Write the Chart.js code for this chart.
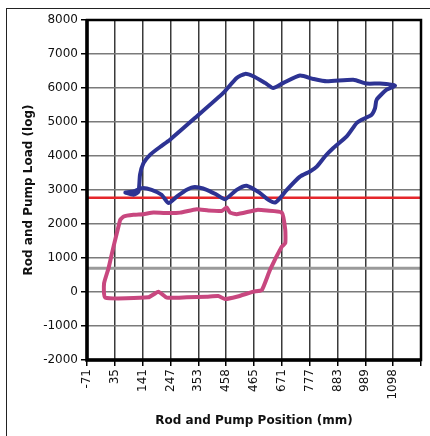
<!DOCTYPE html>
<html>
<head>
<meta charset="utf-8">
<script src="https://cdn.jsdelivr.net/npm/chart.js@4.4.1/dist/chart.umd.min.js"></script>
<style>
  html, body { margin: 0; padding: 0; background: #fff; }
  #wrap { position: relative; width: 430px; height: 436px; }
  #frameTop { position: absolute; left: 6px; top: 8px; width: 424px; height: 1px; background: #222; }
  #frameLeft { position: absolute; left: 6px; top: 8px; width: 1px; height: 428px; background: #222; }
  canvas { position: absolute; left: 0; top: 0; }
</style>
</head>
<body>
<div id="wrap">
  <div id="frameTop"></div>
  <div id="frameLeft"></div>
  <canvas id="chart" width="430" height="436"></canvas>
</div>
<script>
// Axis ticks
const xTicks = [-71, 35, 141, 247, 353, 459, 565, 671, 777, 883, 989, 1095, 1201];
const xLabels = ['-71', '35', '141', '247', '353', '458', '465', '671', '777', '883', '989', '1098', ''];

// Rod load loop (blue)
const rodX = [75, 106, 125, 131, 144, 169, 207, 245, 347, 448, 499, 531, 562, 607, 638, 677, 740, 791, 842, 943, 994, 1045, 1102,
  1070, 1032, 1026, 1013, 975, 956, 918, 867, 835, 804, 778, 740, 690, 664, 645, 620, 588, 537, 499, 455, 423, 385, 340, 309, 271, 239, 213, 175, 138, 106, 75];
const rodY = [2925, 2860, 2955, 3450, 3790, 4035, 4265, 4480, 5165, 5855, 6295, 6415, 6345, 6150, 6000, 6150, 6365, 6265, 6195, 6245, 6130, 6130, 6070,
  5950, 5655, 5410, 5215, 5065, 4970, 4575, 4235, 3985, 3690, 3545, 3395, 3005, 2760, 2630, 2710, 2910, 3125, 3005, 2730, 2860, 3005, 3085, 3005, 2805, 2615, 2860, 3005, 3055, 2955, 2925];

// Pump load loop (pink)
const pumpX = [55, 68, 106, 144, 182, 245, 284, 347, 391, 442, 461, 474, 499, 576, 614, 671, 684, 684, 671, 626, 595, 563, 499, 455, 429, 385, 309, 233, 201, 163, -2, -6, 11, 30, 55];
const pumpY = [2120, 2220, 2270, 2290, 2335, 2320, 2335, 2435, 2395, 2385, 2485, 2335, 2290, 2415, 2395, 2335, 1830, 1435, 1335, 650, 60, 10, -140, -205, -120, -140, -155, -165, 10, -155, -165, 255, 700, 1335, 2120];

// Reference levels
const redLevel = 2770;
const grayLevel = 700;

const toPoints = (xs, ys) => xs.map((x, i) => ({ x: x, y: ys[i] }));
const flatLine = (v) => [{ x: xTicks[0], y: v }, { x: xTicks[xTicks.length - 1], y: v }];

const FONT = 'DejaVu Sans';

// Black frame round the plot area
const frameBox = {
  id: 'frameBox',
  afterDatasetsDraw(chart) {
    const { ctx, chartArea: a } = chart;
    ctx.save();
    ctx.strokeStyle = '#000';
    ctx.lineWidth = 2.5;
    ctx.strokeRect(a.left, a.top, a.right - a.left, a.bottom - a.top);
    ctx.lineWidth = 3.5;
    ctx.beginPath();
    ctx.moveTo(a.left, a.top - 1);
    ctx.lineTo(a.left, a.bottom);
    ctx.lineTo(a.right, a.bottom);
    ctx.stroke();
    ctx.restore();
  }
};

new Chart(document.getElementById('chart').getContext('2d'), {
  type: 'scatter',
  data: {
    datasets: [
      {
        data: toPoints(rodX, rodY),
        showLine: true,
        borderColor: '#2D3393',
        borderWidth: 4,
        pointRadius: 0,
        tension: 0.2,
        borderJoinStyle: 'round',
        borderCapStyle: 'round'
      },
      {
        data: toPoints(pumpX, pumpY),
        showLine: true,
        borderColor: '#C8477F',
        borderWidth: 4,
        pointRadius: 0,
        tension: 0.15,
        borderJoinStyle: 'round',
        borderCapStyle: 'round'
      },
      {
        data: flatLine(redLevel),
        showLine: true,
        borderColor: '#E5262B',
        borderWidth: 2.5,
        pointRadius: 0
      },
      {
        data: flatLine(grayLevel),
        showLine: true,
        borderColor: '#9A9A9A',
        borderWidth: 3,
        pointRadius: 0
      }
    ]
  },
  options: {
    responsive: false,
    animation: false,
    layout: { padding: { left: 10, right: 9, top: 20, bottom: 8 } },
    plugins: { legend: { display: false }, tooltip: { enabled: false } },
    scales: {
      x: {
        type: 'linear',
        min: xTicks[0],
        max: xTicks[xTicks.length - 1],
        afterBuildTicks: (scale) => { scale.ticks = xTicks.map(v => ({ value: v })); },
        afterFit: (scale) => { scale.height = 68; scale.paddingRight = 0; scale.paddingLeft = 0; },
        grid: { color: '#3a3a3a', lineWidth: 1.5, tickLength: 6, tickColor: '#000' },
        border: { display: false },
        ticks: {
          autoSkip: false,
          maxRotation: 90,
          minRotation: 90,
          padding: 3,
          color: '#111',
          font: { family: FONT, size: 12 },
          callback: (v, i) => xLabels[i]
        },
        title: {
          display: true,
          text: 'Rod and Pump Position (mm)',
          color: '#111',
          font: { family: FONT, size: 12, weight: 'bold' },
          padding: { top: 4, bottom: 0 }
        }
      },
      y: {
        min: -2000,
        max: 8000,
        afterFit: (scale) => { scale.width = 77; },
        grid: { color: '#7a7a7a', lineWidth: 1.5, tickLength: 6, tickColor: '#000' },
        border: { display: false },
        ticks: {
          stepSize: 1000,
          padding: 3,
          color: '#111',
          font: { family: FONT, size: 12 },
          callback: (v) => String(v)
        },
        title: {
          display: true,
          text: 'Rod and Pump Load (log)',
          color: '#111',
          font: { family: FONT, size: 12, weight: 'bold' },
          padding: { top: 12, bottom: 2 }
        }
      }
    }
  },
  plugins: [frameBox]
});
</script>
</body>
</html>
